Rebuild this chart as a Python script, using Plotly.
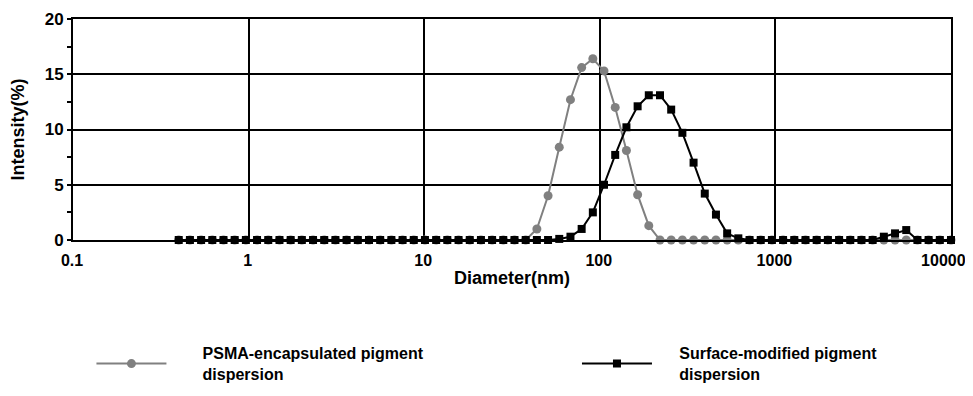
import plotly.graph_objects as go

# Size classes (nm)
diameter = [0.4000, 0.4632, 0.5365, 0.6213, 0.7195, 0.8332, 0.9649, 1.117, 1.294, 1.499,
            1.736, 2.010, 2.328, 2.696, 3.122, 3.615, 4.187, 4.849, 5.615, 6.503,
            7.531, 8.721, 10.10, 11.70, 13.54, 15.69, 18.17, 21.04, 24.36, 28.21,
            32.67, 37.84, 43.82, 50.75, 58.77, 68.06, 78.82, 91.28, 105.7, 122.4,
            141.8, 164.2, 190.1, 220.2, 255.0, 295.3, 342.0, 396.1, 458.7, 531.2,
            615.1, 712.4, 825.0, 955.4, 1106, 1281, 1484, 1718, 1990, 2305,
            2669, 3091, 3580, 4145, 4801, 5560, 6439, 7456, 8635, 10000]

# PSMA-encapsulated pigment dispersion (grey circles)
psma = [0]*32 + [1.0, 4.0, 8.4, 12.7, 15.6, 16.4, 15.3, 12.0,
                 8.1, 4.1, 1.3] + [0]*27

# Surface-modified pigment dispersion (black squares)
surface = [0]*34 + [0.1, 0.3, 1.0, 2.5, 5.0, 7.7,
                    10.2, 12.1, 13.1, 13.1, 11.8, 9.7, 7.0, 4.2, 2.3, 0.6,
                    0.15] + [0]*12 + [0.3, 0.6, 0.9, 0, 0, 0, 0]

x_tickvals = [0.1, 1, 10, 100, 1000, 10000]
x_ticktext = ["0.1", "1", "10", "100", "1000", "10000"]
y_tickvals = [0, 5, 10, 15, 20]

FONT = "Liberation Sans, Arial, sans-serif"
NB = "\u00a0"

# keep the last label inside the visible page edge
x_ticklabels = ["<b>%s</b>" % t for t in x_ticktext]
x_ticklabels[-1] = "<b>%s</b>" % x_ticktext[-1] + NB * 3

fig = go.Figure()
fig.add_trace(go.Scatter(
    x=diameter, y=psma, mode="lines+markers",
    name=NB*7 + "<b>PSMA-encapsulated pigment<br>" + NB*7 + "dispersion</b>",
    line=dict(color="#808080", width=2),
    marker=dict(symbol="circle", size=9, color="#808080"),
    cliponaxis=False, legend="legend"))
fig.add_trace(go.Scatter(
    x=diameter, y=surface, mode="lines+markers",
    name=NB*5 + "<b>Surface-modified pigment<br>" + NB*5 + "dispersion</b>",
    line=dict(color="black", width=2),
    marker=dict(symbol="square", size=8, color="black"),
    cliponaxis=False, legend="legend2"))

# page has an 8px body margin: offset the margins so the plot area sits at x 73..951, y 19..240
fig.update_layout(
    width=957, height=380,
    margin=dict(l=65, r=14, t=11, b=148, autoexpand=False),
    paper_bgcolor="white", plot_bgcolor="white",
    font=dict(family=FONT, size=16, color="black"),
    showlegend=True,
    legend=dict(x=0.021, y=-0.56, xanchor="left", yanchor="middle",
                orientation="h", itemwidth=70, bgcolor="rgba(0,0,0,0)",
                font=dict(size=16, family=FONT)),
    legend2=dict(x=0.574, y=-0.56, xanchor="left", yanchor="middle",
                 orientation="h", itemwidth=70, bgcolor="rgba(0,0,0,0)",
                 font=dict(size=16, family=FONT)),
)
fig.update_xaxes(
    type="log", range=[-1, 4], automargin=False,
    tickvals=x_tickvals, ticktext=x_ticklabels,
    tickfont=dict(size=16), ticklabeloverflow="allow", ticklabelstandoff=5,
    ticklabelshift=-1,
    showgrid=True, gridcolor="black", gridwidth=2,
    showline=True, linecolor="black", linewidth=2, mirror=True,
    ticks="", zeroline=False,
    title=dict(text="<b>Diameter(nm)</b>", font=dict(size=18), standoff=3),
)
fig.update_yaxes(
    range=[0, 20], tickvals=y_tickvals, automargin=False,
    ticktext=["<b>%d</b>" % v for v in y_tickvals],
    tickfont=dict(size=17),
    showgrid=True, gridcolor="black", gridwidth=2,
    showline=True, linecolor="black", linewidth=2, mirror=True,
    ticks="outside", ticklen=4, tickwidth=1.5, tickcolor="black",
    minor=dict(dtick=2.5, ticks="outside", ticklen=4, tickwidth=1.5, tickcolor="black", showgrid=False),
    zeroline=False,
    title=dict(text="<b>Intensity(%)</b>", font=dict(size=18), standoff=16),
)

fig.write_html("out.html")
